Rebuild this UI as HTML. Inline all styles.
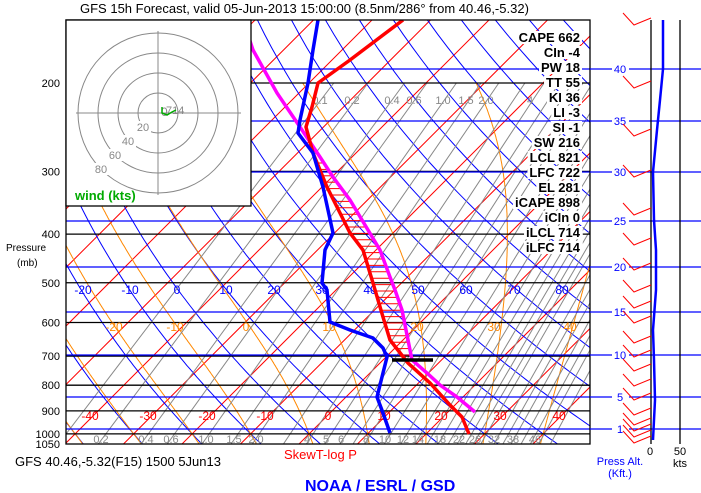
<!DOCTYPE html>
<html><head><meta charset="utf-8"><style>
html,body{margin:0;padding:0;background:#fff;width:701px;height:493px;overflow:hidden}
svg{display:block;font-family:"Liberation Sans",sans-serif}
</style></head><body>
<svg id="s" width="701" height="493" xmlns="http://www.w3.org/2000/svg">
<defs><clipPath id="c"><rect x="66" y="20" width="524" height="424"/></clipPath></defs>
<rect width="701" height="493" fill="#fff"/>
<g id="grid" clip-path="url(#c)"></g>
<g id="over"></g>
</svg>
<script>
var NS="http://www.w3.org/2000/svg";
var G=document.getElementById('grid'),O=document.getElementById('over'),S=document.getElementById('s');
function el(p,t,a,txt){var e=document.createElementNS(NS,t);for(var k in a)e.setAttribute(k,a[k]);if(txt!==undefined)e.textContent=txt;p.appendChild(e);return e;}
function yP(p){return 83+218*(Math.log(p)-Math.log(200));}
function xT(T,y){return 332+5.85*T+(411-y);}
function pl(par,pts,col,w,extra){var d=pts.map(function(q){return q[0].toFixed(1)+','+q[1].toFixed(1)}).join(' ');var a={points:d,fill:'none',stroke:col,'stroke-width':w};for(var k in extra)a[k]=extra[k];el(par,'polyline',a);}
for(var T=-130;T<=60;T+=10){pl(G,[[xT(T,444),444],[xT(T,20),20]],'#f00',1);}
for(var th=-50;th<=180;th+=10){var pts=[];for(var p=1050;p>=140;p-=10){var t=(th+273.15)*Math.pow(p/1000,0.286)-273.15;var y=yP(p);pts.push([xT(t,y),y]);}pl(G,pts,'#00f',1);}
function es(Tc){return 6.112*Math.exp(17.67*Tc/(Tc+243.5));}
function dTdp(T,p){var Tc=T-273.15;var e=es(Tc);var rs=0.622*e/(p-e);return (287*T+2.5e6*rs)/(p*(1005+2.5e6*2.5e6*rs*0.622/(287*T*T)));}
for(var tw=-40;tw<=50;tw+=10){var pts=[];var T=tw+273.15;var p=1000;
 var T2=T;for(var pp=1000;pp<1050;pp+=2){T2+=dTdp(T2,pp)*2;}
 pts.push([xT(T2-273.15,yP(1050)),yP(1050)]);
 for(p=1000;p>=200;p-=2){var y=yP(p);pts.push([xT(T-273.15,y),y]);T-=dTdp(T,p)*2;}
 pl(G,pts,'#f80',1);}
var ws=[0.1,0.2,0.4,0.6,1,1.5,2,3,4,5,6,7,8,10,12,14,16,18,20,22,24,26,28,32,35,38,42,46,50,56];
ws.forEach(function(w){var pts=[];[1050,200].forEach(function(p){var e=w*p/(622+w);var L=Math.log(e/6.112);var td=243.5*L/(17.67-L);var y=yP(p);pts.push([xT(td,y),y]);});pl(G,pts,'#888',1);});
[200,300,400,500,600,700,800,900,1000,1050].forEach(function(p){el(G,'line',{x1:66,x2:590,y1:yP(p),y2:yP(p),stroke:'#000','stroke-width':1.3});});
var alts=[[1,429],[5,397],[10,355],[15,312],[20,267],[25,221],[30,172],[35,121],[40,69]];
alts.forEach(function(a){el(G,'line',{x1:66,x2:590,y1:a[1],y2:a[1],stroke:'#00f','stroke-width':1.2});});
[[0.2,101],[0.4,146],[0.6,171],['1.0',206],[1.5,234],['2.0',256],[4,307],[5,326],[6,341],[8,366],[10,385],[12,403],[14,418],[18,440],[22,459],[26,475],[32,494],[38,513],[46,535]].forEach(function(a){el(G,'text',{x:a[1],y:443,fill:'#888','font-size':11,'text-anchor':'middle'},a[0]);});
[['0.1',320],['0.2',352],['0.4',392],['0.6',414],['1.0',443],['1.5',466],['2.0',486],['4',530]].forEach(function(a){el(G,'text',{x:a[1],y:104,fill:'#888','font-size':11,'text-anchor':'middle'},a[0]);});
[[-20,83],[-10,130],[0,177],[10,226],[20,274],[30,322],[40,370],[50,418],[60,466],[70,514],[80,562]].forEach(function(a){el(G,'text',{x:a[1],y:294,fill:'#00f','font-size':12,'text-anchor':'middle'},a[0]);});
[[-20,114],[-10,175],[0,246],[10,329],[20,417],[30,494],[40,570]].forEach(function(a){el(G,'text',{x:a[1],y:331,fill:'#f80','font-size':12,'text-anchor':'middle'},a[0]);});
[[-40,90],[-30,148],[-20,207],[-10,265],[0,328],[10,384],[20,441],[30,500],[40,559]].forEach(function(a){el(G,'text',{x:a[1],y:420,fill:'#f00','font-size':12,'text-anchor':'middle'},a[0]);});
var tempP=[[469,434],[462,417],[450,405],[430,383],[408,363],[390,340],[383,317],[373,283],[363,250],[350,233],[327,187],[313,153],[306,127],[312,107],[318,83],[350,60],[403,20]];
var parP=[[475,412],[457,397],[440,385],[427,373],[412,360],[408,340],[402,310],[395,290],[390,277],[380,250],[350,200],[333,177],[320,157],[300,127],[277,93],[253,50],[243,20]];
function xAt(P,y){for(var i=0;i<P.length-1;i++){var a=P[i],b=P[i+1];if((y<=a[1]&&y>=b[1])){var f=(a[1]-y)/(a[1]-b[1]||1);return a[0]+(b[0]-a[0])*f;}}return null;}
for(var y=163;y<=356;y+=6.4){var a=xAt(tempP,y),b=xAt(parP,y);if(a&&b&&b>a)el(G,'line',{x1:a,x2:b,y1:y,y2:y,stroke:'#f00','stroke-width':1});}
pl(G,parP,'#f0f',3.5);
pl(G,tempP,'#f00',3.5);
pl(G,[[390,433],[383,413],[377,397],[382,377],[387,357],[383,348],[373,338],[350,330],[330,322],[327,290],[322,283],[325,250],[333,233],[323,187],[313,153],[298,133],[300,120],[308,83],[313,50],[318,20]],'#00f',3.5);
el(G,'line',{x1:392,x2:433,y1:360,y2:360,stroke:'#000','stroke-width':3.5});
el(O,'rect',{x:66,y:20,width:524,height:424,fill:'none',stroke:'#000','stroke-width':1.3});
el(O,'rect',{x:66,y:20,width:185,height:186,fill:'#fff',stroke:'#000','stroke-width':1.3});
[20,40,60,80].forEach(function(r){el(O,'circle',{cx:158,cy:113,r:r,fill:'none',stroke:'#888','stroke-width':1});});
el(O,'line',{x1:76,x2:241,y1:113,y2:113,stroke:'#888'});el(O,'line',{x1:158,x2:158,y1:31,y2:195,stroke:'#888'});
[['20',143,131],['40',128,145],['60',115,159],['80',101,173]].forEach(function(a){el(O,'rect',{x:a[1]-7,y:a[2]-10,width:15,height:12,fill:'#fff'});el(O,'text',{x:a[1],y:a[2],fill:'#888','font-size':11,'text-anchor':'middle'},a[0]);});
el(O,'text',{x:161,y:116,fill:'#888','font-size':12},'0');el(O,'text',{x:166,y:114,fill:'#888','font-size':11},'714');
pl(O,[[162,107],[162,113],[167,115],[172,112],[176,110]],'#0a0',1.5);
el(O,'text',{x:75,y:200,fill:'#0a0','font-size':13,'font-weight':'bold'},'wind (kts)');
var idx=['CAPE 662','CIn -4','PW 18','TT 55','KI 36','LI -3','SI -1','SW 216','LCL 821','LFC 722','EL 281','iCAPE 898','iCIn 0','iLCL 714','iLFC 714'];
idx.forEach(function(t,i){var y=42+15*i;var tx=el(O,'text',{x:580,y:y,'font-size':13,'font-weight':'bold','text-anchor':'end',fill:'#000'},t);var bb=tx.getBBox();var r=el(O,'rect',{x:bb.x-2,y:y-11,width:bb.width+4,height:13,fill:'#fff'});O.insertBefore(r,tx);});
[200,300,400,500,600,700,800,900,1000].forEach(function(p){el(O,'text',{x:60,y:yP(p)+4,'font-size':11,'text-anchor':'end'},p);});
el(O,'text',{x:60,y:448,'font-size':11,'text-anchor':'end'},'1050');
el(O,'text',{x:6,y:251,'font-size':10},'Pressure');el(O,'text',{x:17,y:266,'font-size':10},'(mb)');
alts.forEach(function(a){el(O,'line',{x1:590,x2:612,y1:a[1],y2:a[1],stroke:'#00f','stroke-width':1.2});el(O,'line',{x1:629,x2:701,y1:a[1],y2:a[1],stroke:'#00f','stroke-width':1.2});el(O,'text',{x:620,y:a[1]+4,fill:'#00f','font-size':11,'text-anchor':'middle'},a[0]);});
el(O,'line',{x1:651,x2:651,y1:20,y2:444,stroke:'#000','stroke-width':1.3});
el(O,'line',{x1:680,x2:680,y1:20,y2:444,stroke:'#000','stroke-width':1.3});
[20,83,131,172,210,240,265,287,303,318,338,352,366,381,395,410,420,426,432,438].forEach(function(y){pl(O,[[651,y-2],[634,y+5],[623,y-7]],'#f00',1);});
pl(O,[[663,20],[663,69],[660,100],[657,130],[653,172],[654,220],[656,250],[656,290],[653,330],[654,360],[655,400],[653,440]],'#00f',2.5);
el(O,'text',{x:650,y:455,'font-size':11,'text-anchor':'middle'},'0');
el(O,'text',{x:680,y:455,'font-size':11,'text-anchor':'middle'},'50');
el(O,'text',{x:680,y:467,'font-size':11,'text-anchor':'middle'},'kts');
el(O,'text',{x:620,y:465,fill:'#00f','font-size':11,'text-anchor':'middle'},'Press Alt.');
el(O,'text',{x:620,y:477,fill:'#00f','font-size':11,'text-anchor':'middle'},'(Kft.)');
el(O,'text',{x:80,y:13,'font-size':13},'GFS 15h Forecast, valid 05-Jun-2013 15:00:00 (8.5nm/286\u00b0 from 40.46,-5.32)');
el(O,'text',{x:15,y:466,'font-size':13},'GFS 40.46,-5.32(F15) 1500 5Jun13');
el(O,'text',{x:284,y:459,fill:'#f00','font-size':13},'SkewT-log P');
el(O,'text',{x:305,y:491,fill:'#00f','font-size':16,'font-weight':'bold'},'NOAA / ESRL / GSD');
</script>
</body></html>
